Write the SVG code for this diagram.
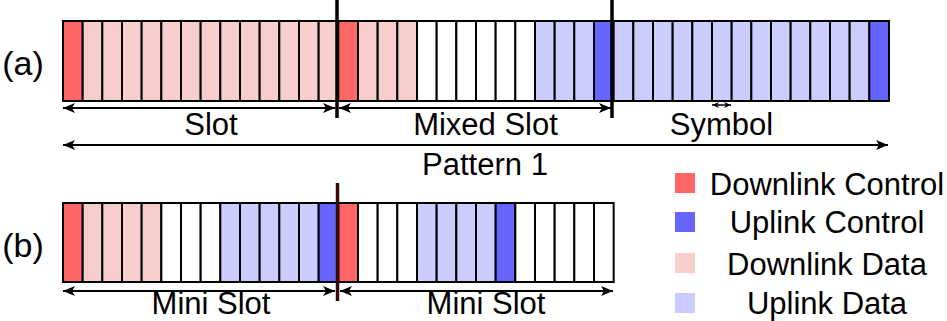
<svg xmlns="http://www.w3.org/2000/svg" width="947" height="321" viewBox="0 0 947 321">
<style>
.c{stroke:#000;stroke-width:2}
.dc{fill:#FF6666}.dd{fill:#F8CECC}.uc{fill:#6666FF}.ud{fill:#CCCCFF}.w{fill:#FFFFFF}
text{font-family:"Liberation Sans",Arial,sans-serif;font-size:31px;fill:#000}
.m{text-anchor:middle}
.ar{stroke:#000;stroke-width:2;fill:none}
</style>
<defs>
<marker id="ah" markerUnits="userSpaceOnUse" markerWidth="14" markerHeight="12" refX="12" refY="5" orient="auto-start-reverse" viewBox="0 0 14 12">
<path d="M0,0 L12,5 L0,10 L3,5 z" fill="#000"/>
</marker>
<marker id="ahs" markerUnits="userSpaceOnUse" markerWidth="8" markerHeight="7" refX="7" refY="3" orient="auto-start-reverse" viewBox="0 0 8 7">
<path d="M0,0 L7,3 L0,6 L2,3 z" fill="#000"/>
</marker>
</defs>
<rect width="947" height="321" fill="#fff"/>
<g id="label-a"><text x="23" y="75" class="m" style="font-size:34px">(a)</text></g>
<g id="label-b"><text x="23" y="257" class="m" style="font-size:34px">(b)</text></g>
<g id="pattern-a">
<rect class="c dc" x="63" y="21" width="19.67" height="80"/>
<rect class="c dd" x="82.67" y="21" width="19.67" height="80"/>
<rect class="c dd" x="102.33" y="21" width="19.67" height="80"/>
<rect class="c dd" x="122" y="21" width="19.67" height="80"/>
<rect class="c dd" x="141.67" y="21" width="19.67" height="80"/>
<rect class="c dd" x="161.33" y="21" width="19.67" height="80"/>
<rect class="c dd" x="181" y="21" width="19.67" height="80"/>
<rect class="c dd" x="200.67" y="21" width="19.67" height="80"/>
<rect class="c dd" x="220.33" y="21" width="19.67" height="80"/>
<rect class="c dd" x="240" y="21" width="19.67" height="80"/>
<rect class="c dd" x="259.67" y="21" width="19.67" height="80"/>
<rect class="c dd" x="279.33" y="21" width="19.67" height="80"/>
<rect class="c dd" x="299" y="21" width="19.67" height="80"/>
<rect class="c dd" x="318.67" y="21" width="19.67" height="80"/>
<rect class="c dc" x="338.33" y="21" width="19.67" height="80"/>
<rect class="c dd" x="358" y="21" width="19.67" height="80"/>
<rect class="c dd" x="377.67" y="21" width="19.67" height="80"/>
<rect class="c dd" x="397.33" y="21" width="19.67" height="80"/>
<rect class="c w" x="417" y="21" width="19.67" height="80"/>
<rect class="c w" x="436.67" y="21" width="19.67" height="80"/>
<rect class="c w" x="456.33" y="21" width="19.67" height="80"/>
<rect class="c w" x="476" y="21" width="19.67" height="80"/>
<rect class="c w" x="495.67" y="21" width="19.67" height="80"/>
<rect class="c w" x="515.33" y="21" width="19.67" height="80"/>
<rect class="c ud" x="535" y="21" width="19.67" height="80"/>
<rect class="c ud" x="554.67" y="21" width="19.67" height="80"/>
<rect class="c ud" x="574.33" y="21" width="19.67" height="80"/>
<rect class="c uc" x="594" y="21" width="19.67" height="80"/>
<rect class="c ud" x="613.67" y="21" width="19.67" height="80"/>
<rect class="c ud" x="633.33" y="21" width="19.67" height="80"/>
<rect class="c ud" x="653" y="21" width="19.67" height="80"/>
<rect class="c ud" x="672.67" y="21" width="19.67" height="80"/>
<rect class="c ud" x="692.33" y="21" width="19.67" height="80"/>
<rect class="c ud" x="712" y="21" width="19.67" height="80"/>
<rect class="c ud" x="731.67" y="21" width="19.67" height="80"/>
<rect class="c ud" x="751.33" y="21" width="19.67" height="80"/>
<rect class="c ud" x="771" y="21" width="19.67" height="80"/>
<rect class="c ud" x="790.67" y="21" width="19.67" height="80"/>
<rect class="c ud" x="810.33" y="21" width="19.67" height="80"/>
<rect class="c ud" x="830" y="21" width="19.67" height="80"/>
<rect class="c ud" x="849.67" y="21" width="19.67" height="80"/>
<rect class="c uc" x="869.33" y="21" width="19.67" height="80"/>
</g>
<g id="pattern-b">
<rect class="c dc" x="63" y="203" width="19.67" height="79"/>
<rect class="c dd" x="82.67" y="203" width="19.67" height="79"/>
<rect class="c dd" x="102.33" y="203" width="19.67" height="79"/>
<rect class="c dd" x="122" y="203" width="19.67" height="79"/>
<rect class="c dd" x="141.67" y="203" width="19.67" height="79"/>
<rect class="c w" x="161.33" y="203" width="19.67" height="79"/>
<rect class="c w" x="181" y="203" width="19.67" height="79"/>
<rect class="c w" x="200.67" y="203" width="19.67" height="79"/>
<rect class="c ud" x="220.33" y="203" width="19.67" height="79"/>
<rect class="c ud" x="240" y="203" width="19.67" height="79"/>
<rect class="c ud" x="259.67" y="203" width="19.67" height="79"/>
<rect class="c ud" x="279.33" y="203" width="19.67" height="79"/>
<rect class="c ud" x="299" y="203" width="19.67" height="79"/>
<rect class="c uc" x="318.67" y="203" width="19.67" height="79"/>
<rect class="c dc" x="338.33" y="203" width="19.67" height="79"/>
<rect class="c w" x="358" y="203" width="19.67" height="79"/>
<rect class="c w" x="377.67" y="203" width="19.67" height="79"/>
<rect class="c w" x="397.33" y="203" width="19.67" height="79"/>
<rect class="c ud" x="417" y="203" width="19.67" height="79"/>
<rect class="c ud" x="436.67" y="203" width="19.67" height="79"/>
<rect class="c ud" x="456.33" y="203" width="19.67" height="79"/>
<rect class="c ud" x="476" y="203" width="19.67" height="79"/>
<rect class="c uc" x="495.67" y="203" width="19.67" height="79"/>
<rect class="c w" x="515.33" y="203" width="19.67" height="79"/>
<rect class="c w" x="535" y="203" width="19.67" height="79"/>
<rect class="c w" x="554.67" y="203" width="19.67" height="79"/>
<rect class="c w" x="574.33" y="203" width="19.67" height="79"/>
<rect class="c w" x="594" y="203" width="19.67" height="79"/>
</g>
<g id="connectors">
<line class="ar" x1="63" y1="108" x2="335" y2="108" marker-start="url(#ah)" marker-end="url(#ah)"/>
<line class="ar" x1="339" y1="108" x2="611" y2="108" marker-start="url(#ah)" marker-end="url(#ah)"/>
<line class="ar" x1="712" y1="105" x2="731" y2="105" style="stroke-width:1.5" marker-start="url(#ahs)" marker-end="url(#ahs)"/>
<line class="ar" x1="63" y1="145" x2="888" y2="145" marker-start="url(#ah)" marker-end="url(#ah)"/>
<line class="ar" x1="63" y1="291" x2="335" y2="291" marker-start="url(#ah)" marker-end="url(#ah)"/>
<line class="ar" x1="340" y1="291" x2="613" y2="291" marker-start="url(#ah)" marker-end="url(#ah)"/>
<line x1="337" y1="0" x2="337" y2="118" stroke="#000" stroke-width="3.5"/>
<line x1="612" y1="0" x2="612" y2="118" stroke="#000" stroke-width="3.5"/>
<line x1="337.5" y1="183" x2="337.5" y2="301" stroke="#3B0808" stroke-width="3.5"/>
</g>
<g id="labels">
<text x="211" y="135" class="m">Slot</text>
<text x="485.5" y="135" class="m">Mixed Slot</text>
<text x="721.5" y="135" class="m">Symbol</text>
<text x="485" y="175" class="m">Pattern 1</text>
<text x="211" y="314" class="m">Mini Slot</text>
<text x="486" y="314" class="m">Mini Slot</text>
</g>
<g id="legend">
<rect class="dc" x="675" y="173" width="20" height="20"/>
<rect class="uc" x="675" y="212" width="20" height="20"/>
<rect class="dd" x="675" y="253" width="20" height="20"/>
<rect class="ud" x="675" y="293" width="20" height="20"/>
<text x="827" y="195" class="m">Downlink Control</text>
<text x="827" y="233" class="m">Uplink Control</text>
<text x="827" y="275" class="m">Downlink Data</text>
<text x="827" y="314" class="m">Uplink Data</text>
</g>
</svg>
